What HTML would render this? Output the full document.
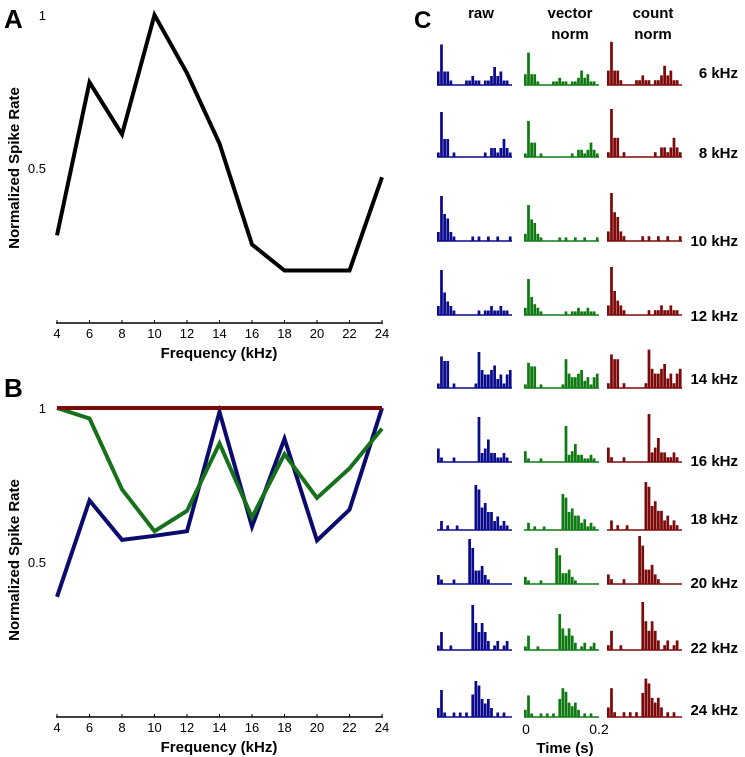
<!DOCTYPE html>
<html><head><meta charset="utf-8"><style>
body{margin:0;background:#fff;}
svg{display:block;font-family:"Liberation Sans",Arial,sans-serif;}
</style></head><body>
<svg id="fig" width="745" height="757" viewBox="0 0 745 757">
<text x="4" y="28" font-size="26" font-weight="bold">A</text>
<text x="4" y="397" font-size="26" font-weight="bold">B</text>
<text x="414" y="28" font-size="24" font-weight="bold">C</text>
<text x="481" y="18" font-size="15" font-weight="bold" text-anchor="middle">raw</text>
<text x="570" y="18" font-size="15" font-weight="bold" text-anchor="middle"><tspan x="570">vector</tspan><tspan x="570" dy="21">norm</tspan></text>
<text x="653" y="18" font-size="15" font-weight="bold" text-anchor="middle"><tspan x="653">count</tspan><tspan x="653" dy="21">norm</tspan></text>
<text x="526" y="734" font-size="14" text-anchor="middle">0</text>
<text x="599" y="734" font-size="14" text-anchor="middle">0.2</text>
<text x="565" y="753" font-size="15" font-weight="bold" text-anchor="middle">Time (s)</text>
<g id="gA"></g>
<g id="gB"></g>
<g id="gC"></g>
</svg>
<script>
const freqs=[4,6,8,10,12,14,16,18,20,22,24];
const rateA=[0.28,0.78,0.61,1.0,0.81,0.58,0.25,0.165,0.165,0.165,0.47];
const rawB=[0.387,0.70,0.572,0.585,0.60,0.987,0.615,0.90,0.57,0.67,1.0];
const vecB=[1.0,0.966,0.736,0.60,0.666,0.885,0.645,0.85,0.708,0.804,0.933];
const cntB=[1,1,1,1,1,1,1,1,1,1,1];
const yTicks=[0.5,1];
const freqLabels=["6 kHz","8 kHz","10 kHz","12 kHz","14 kHz","16 kHz","18 kHz","20 kHz","22 kHz","24 kHz"];
const bins6=[3,9,3,3,1,0,0,0,0,1,1,2,1,1,0,1,1,2,4,2,3,1,1,0];
const bins8=[1,10,4,4,0,1,0,0,0,0,0,0,0,0,0,1,0,2,2,1,2,4,2,1];
const bins10=[2,10,6,5,2,1,0,0,0,0,0,1,0,1,0,0,1,0,0,1,0,0,0,1];
const bins12=[2,10,5,3,2,1,0,0,0,0,0,0,0,1,0,1,1,2,1,1,2,1,1,0];
const bins14=[1,7,6,6,0,1,0,0,0,0,0,0,1,8,4,3,3,4,5,2,3,1,3,4];
const bins16=[3,1,0,0,0,1,0,0,0,0,0,0,0,10,2,3,5,2,2,1,1,2,1,0];
const bins18=[0,2,0,1,0,0,1,0,0,0,0,0,10,9,5,6,4,4,2,3,1,2,1,0];
const bins20=[2,1,0,0,0,1,0,0,0,0,10,8,3,3,4,2,1,0,0,0,0,0,0,0];
const bins22=[1,4,0,0,1,0,0,0,0,0,0,10,6,4,6,4,2,0,1,2,0,1,2,0];
const bins24=[2,6,1,0,0,1,0,1,0,1,0,5,8,7,4,3,4,2,0,1,0,1,0,0];
const allBins=[bins6,bins8,bins10,bins12,bins14,bins16,bins18,bins20,bins22,bins24];

const NS="http://www.w3.org/2000/svg";
function mk(tag,attrs,parent){const e=document.createElementNS(NS,tag);for(const k in attrs)e.setAttribute(k,attrs[k]);parent.appendChild(e);return e;}

function linePanel(g,y1px,y05px,axisY,axisTitleY,series,colors,names){
  const xs=f=>57+(f-4)/20*(382-57);
  const ys=v=>y1px+(1-v)*(y05px-y1px)*2;
  yTicks.forEach(t=>{
    const e=mk('text',{x:46,y:ys(t)+5,'font-size':13,'text-anchor':'end'},g);
    e.textContent=String(t);
    
    
  });
  const ax=mk('line',{x1:56,x2:383,y1:axisY,y2:axisY,stroke:'#000','stroke-width':1.5},g);
  
  
  freqs.forEach(f=>{
    mk('line',{x1:xs(f),x2:xs(f),y1:axisY,y2:axisY-3,stroke:'#000','stroke-width':1},g);
    const e=mk('text',{x:xs(f),y:axisY+15,'font-size':13,'text-anchor':'middle'},g);
    e.textContent=String(f);
    
    
  });
  const xt=mk('text',{x:219,y:axisY+35,'font-size':15,'font-weight':'bold','text-anchor':'middle'},g);
  xt.textContent='Frequency (kHz)';
  
  
  const yt=mk('text',{x:0,y:0,'font-size':15,'font-weight':'bold','text-anchor':'middle',transform:`translate(19,${axisTitleY}) rotate(-90)`},g);
  yt.textContent='Normalized Spike Rate';
  
  
  series.forEach((s,i)=>{
    const p=mk('polyline',{points:s.map((v,j)=>xs(freqs[j])+','+ys(v)).join(' '),fill:'none',stroke:colors[i],'stroke-width':4,'stroke-linejoin':'miter'},g);
    
    
  });
}
linePanel(document.getElementById('gA'),15,168,323,168,[rateA],['#000'],['rate-line']);
linePanel(document.getElementById('gB'),408,562,717,560,[rawB,vecB,cntB],['#0b0b6e','#17701a','#7a0b0b'],['raw-line','vector-norm-line','count-norm-line']);

const gC=document.getElementById('gC');
const baselines=[85,157,241,315,388,462,530,584,650,717];
const labelYs=[78,158,246,321,384,466,524,588,653,715];
const colX=[437,524,607];
const colColors=['#0a0a8c','#0f7a12','#7d0a0a'];
const unit=[4.5,3.6,4.8];
const colNames=['raw','vector-norm','count-norm'];
const bw=75/24;
allBins.forEach((bins,r)=>{
  const lab=mk('text',{x:738,y:labelYs[r],'font-size':15,'font-weight':'bold','text-anchor':'end'},gC);
  lab.textContent=freqLabels[r];
  
  
  colX.forEach((x0,c)=>{
    const hg=mk('g',{},gC);
    
    
    mk('line',{x1:x0,x2:x0+75,y1:baselines[r],y2:baselines[r],stroke:colColors[c],'stroke-width':1.5},hg);
    bins.forEach((v,i)=>{
      if(v<=0)return;
      const h=v*unit[c];
      const b=mk('rect',{x:x0+i*bw,y:baselines[r]-h,width:bw-0.4,height:h,fill:colColors[c]},hg);
      
      
    });
  });
});
</script>
</body></html>
